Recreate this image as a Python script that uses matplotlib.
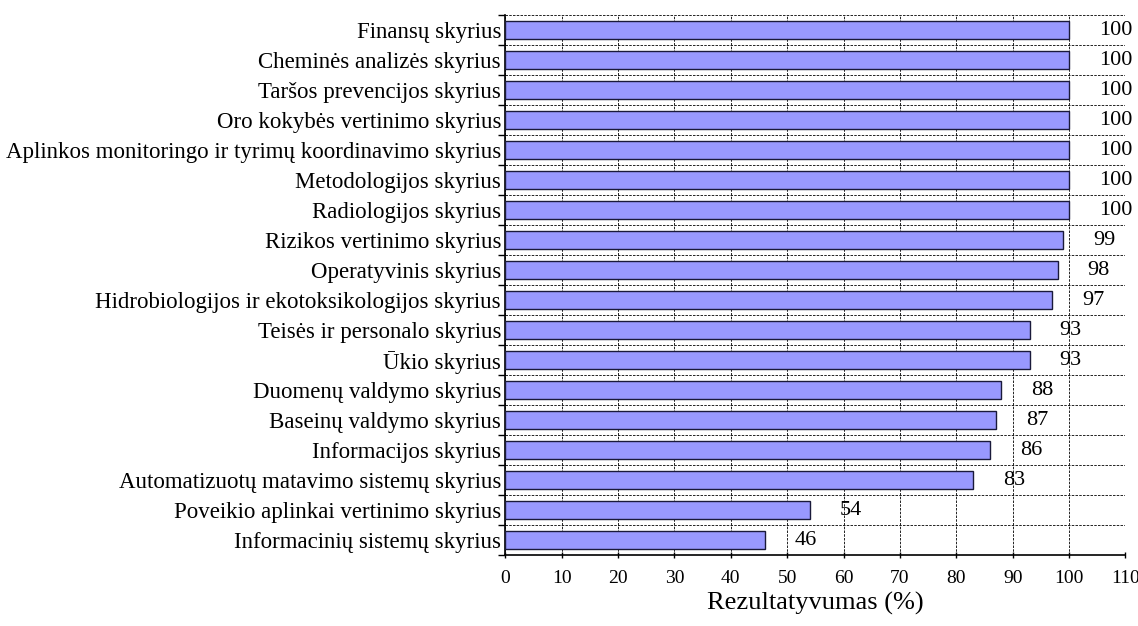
import numpy as np
import matplotlib.pyplot as plt
from matplotlib.ticker import FixedLocator

# departments listed top to bottom, as in the chart
departments = [
    "Finansų skyrius",
    "Cheminės analizės skyrius",
    "Taršos prevencijos skyrius",
    "Oro kokybės vertinimo skyrius",
    "Aplinkos monitoringo ir tyrimų koordinavimo skyrius",
    "Metodologijos skyrius",
    "Radiologijos skyrius",
    "Rizikos vertinimo skyrius",
    "Operatyvinis skyrius",
    "Hidrobiologijos ir ekotoksikologijos skyrius",
    "Teisės ir personalo skyrius",
    "Ūkio skyrius",
    "Duomenų valdymo skyrius",
    "Baseinų valdymo skyrius",
    "Informacijos skyrius",
    "Automatizuotų matavimo sistemų skyrius",
    "Poveikio aplinkai vertinimo skyrius",
    "Informacinių sistemų skyrius",
]
scores = [100, 100, 100, 100, 100, 100, 100, 99, 98, 97, 93, 93, 88, 87, 86, 83, 54, 46]
x_ticks = list(range(0, 111, 10))

plt.rcParams['font.family'] = ['Liberation Serif', 'DejaVu Serif']

fig = plt.figure(figsize=(11.38, 6.26), dpi=100)
ax = fig.add_axes([0.444, 0.113, 0.545, 0.863])

n = len(departments)
ypos = np.arange(n)[::-1]
ax.barh(ypos, scores, height=0.6, color='#9999ff', edgecolor='#1a1a3a', linewidth=1.0, zorder=3)

for y, v in zip(ypos, scores):
    ax.text(v + 5.3, y, f"{v}", va='center', ha='left', fontsize=16, zorder=4)

ax.set_xlim(0, 110)
ax.set_ylim(-0.5, n - 0.5)

ax.xaxis.set_major_locator(FixedLocator(x_ticks))
ax.tick_params(axis='x', labelsize=14, length=5, direction='inout', width=1, pad=8)
ax.yaxis.set_major_locator(FixedLocator(np.arange(-0.5, n, 1.0)))
ax.yaxis.set_minor_locator(FixedLocator(ypos))
ax.set_yticklabels([])
ax.set_yticklabels(departments, minor=True, fontsize=16.5)
ax.tick_params(axis='y', which='major', length=5, width=1)
ax.tick_params(axis='y', which='minor', length=0, pad=3)

ax.grid(True, which='major', linestyle=(0, (3, 1.5)), color='black', linewidth=0.6, zorder=0)
ax.set_axisbelow(True)
for s in ['top', 'right']:
    ax.spines[s].set_visible(False)
for s in ['left', 'bottom']:
    ax.spines[s].set_linewidth(1.2)

ax.set_xlabel("Rezultatyvumas (%)", fontsize=19, labelpad=4)

fig.savefig("out.png", dpi=100)
